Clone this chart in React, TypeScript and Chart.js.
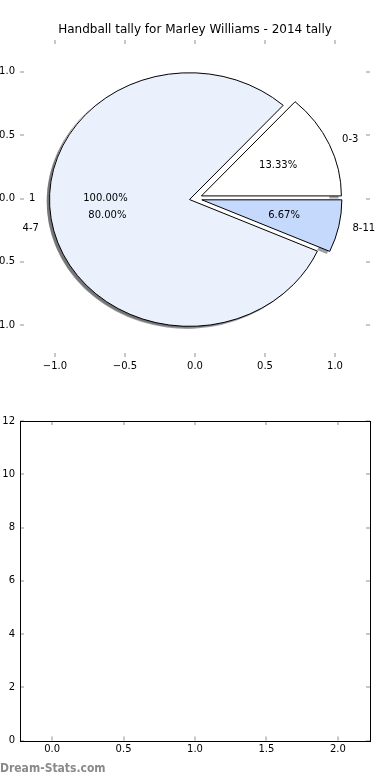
import React, { useEffect, useRef } from 'react';
import { Chart, registerables } from 'chart.js';

Chart.register(...registerables);

// ---------- data ----------
const TITLE = 'Handball tally for Marley Williams - 2014 tally';
const sliceLabels = ['0-3', '4-7', '8-11'];
const sliceValues = [2, 12, 1];
const sliceExplode = [0.05, 0.04, 0.05];
const overallLabels = ['1'];
const overallValues = [1];
const overallExplode = [0.04];
const pieTicks = [-1.0, -0.5, 0.0, 0.5, 1.0];
const barXTicks = [0.0, 0.5, 1.0, 1.5, 2.0];
const barYTicks = [0, 2, 4, 6, 8, 10, 12];
const WATERMARK = 'Dream-Stats.com';

// ---------- styles ----------
const sliceColors = ['#ffffff', '#eaf1fd', '#c5d9fd'];
const overallColors = ['#ffffff'];
const FONT = 'DejaVu Sans';
const TICK_MARK = '#c8c8c8';

const fmt1 = (v: number) => (v < 0 ? '\u2212' : '') + Math.abs(v).toFixed(1);

function hexToRgb(h: string) {
  const n = parseInt(h.slice(1), 16);
  return [(n >> 16) & 255, (n >> 8) & 255, n & 255];
}

function buildWedges(values: number[], labels: string[], colors: string[], explode: number[], edge: boolean) {
  const total = values.reduce((a, b) => a + b, 0);
  let theta = 0;
  return values.map((v, i) => {
    const t1 = theta;
    const t2 = theta + (360 * v) / total;
    theta = t2;
    const mid = (((t1 + t2) / 2) * Math.PI) / 180;
    return {
      t1: (t1 * Math.PI) / 180,
      t2: (t2 * Math.PI) / 180,
      mid,
      cx: explode[i] * Math.cos(mid),
      cy: explode[i] * Math.sin(mid),
      pct: ((v / total) * 100).toFixed(2) + '%',
      label: labels[i],
      color: colors[i],
      edge,
    };
  });
}

function drawPies(chart: any) {
  const { ctx, scales } = chart;
  const x = scales.x;
  const y = scales.y;
  const ux = x.getPixelForValue(1) - x.getPixelForValue(0);
  const uy = y.getPixelForValue(0) - y.getPixelForValue(1);
  const pies = [
    buildWedges(overallValues, overallLabels, overallColors, overallExplode, false),
    buildWedges(sliceValues, sliceLabels, sliceColors, sliceExplode, true),
  ];
  const all = pies.flat();
  const path = (w: any, ox: number, oy: number) => {
    const px = x.getPixelForValue(w.cx + ox);
    const py = y.getPixelForValue(w.cy + oy);
    ctx.beginPath();
    const full = Math.abs(w.t2 - w.t1 - 2 * Math.PI) < 1e-9;
    if (!full) ctx.moveTo(px, py);
    ctx.ellipse(px, py, ux, uy, 0, -w.t1, -w.t2, true);
    ctx.closePath();
  };
  ctx.save();
  // shadows (below every wedge)
  all.forEach((w) => {
    const [r, g, b] = hexToRgb(w.color).map((c) => Math.round(c * 0.3));
    path(w, -0.02, -0.02);
    ctx.fillStyle = `rgba(${r},${g},${b},0.5)`;
    ctx.fill();
  });
  // wedges
  all.forEach((w) => {
    path(w, 0, 0);
    ctx.fillStyle = w.color;
    ctx.fill();
    if (w.edge) {
      ctx.strokeStyle = '#000';
      ctx.lineWidth = 1;
      ctx.stroke();
    }
  });
  // texts
  ctx.font = `10px "${FONT}"`;
  ctx.fillStyle = '#000';
  ctx.textBaseline = 'middle';
  all.forEach((w) => {
    const lx = w.cx + 1.1 * Math.cos(w.mid);
    const ly = w.cy + 1.1 * Math.sin(w.mid);
    ctx.textAlign = lx > 0 ? 'left' : 'right';
    ctx.fillText(w.label, x.getPixelForValue(lx), y.getPixelForValue(ly));
    const qx = w.cx + 0.6 * Math.cos(w.mid);
    const qy = w.cy + 0.6 * Math.sin(w.mid);
    ctx.textAlign = 'center';
    ctx.fillText(w.pct, x.getPixelForValue(qx), y.getPixelForValue(qy));
  });
  ctx.restore();
}

function drawTickMarks(chart: any) {
  const { ctx, chartArea: a, scales } = chart;
  ctx.save();
  ctx.strokeStyle = TICK_MARK;
  ctx.lineWidth = 2;
  ctx.beginPath();
  scales.x.ticks.forEach((t: any) => {
    const px = Math.round(scales.x.getPixelForValue(t.value));
    ctx.moveTo(px, a.top);
    ctx.lineTo(px, a.top + 4);
    ctx.moveTo(px, a.bottom);
    ctx.lineTo(px, a.bottom - 4);
  });
  scales.y.ticks.forEach((t: any) => {
    const py = Math.round(scales.y.getPixelForValue(t.value));
    ctx.moveTo(a.left, py);
    ctx.lineTo(a.left + 4, py);
    ctx.moveTo(a.right, py);
    ctx.lineTo(a.right - 4, py);
  });
  ctx.stroke();
  ctx.restore();
}

const tickFont = { family: FONT, size: 10, weight: 'normal' as const };

function axis(min: number, max: number, ticks: number[], size: number, isX: boolean, fmt: (v: number) => string) {
  return {
    type: 'linear',
    min,
    max,
    afterBuildTicks: (s: any) => {
      s.ticks = ticks.map((v) => ({ value: v }));
    },
    afterFit: (s: any) => {
      if (isX) s.height = size;
      else s.width = size;
    },
    grid: { display: false, drawTicks: false },
    border: { display: false },
    ticks: {
      color: '#000',
      font: tickFont,
      padding: isX ? 3 : 5,
      maxRotation: 0,
      autoSkip: false,
      callback: (v: any) => fmt(Number(v)),
    },
  };
}

export default function App() {
  const pieRef = useRef<HTMLCanvasElement>(null);
  const barRef = useRef<HTMLCanvasElement>(null);

  useEffect(() => {
    const piePlugin = {
      id: 'piePlugin',
      afterDatasetsDraw(chart: any) {
        drawPies(chart);
        drawTickMarks(chart);
      },
    };
    const pie = new Chart(pieRef.current as HTMLCanvasElement, {
      type: 'scatter',
      data: { datasets: [{ data: [], pointRadius: 0 }] },
      plugins: [piePlugin],
      options: {
        animation: false,
        responsive: false,
        maintainAspectRatio: false,
        layout: { padding: { left: 0, right: 20, top: 0, bottom: 0 } },
        plugins: {
          legend: { display: false },
          tooltip: { enabled: false },
          title: {
            display: true,
            text: TITLE,
            fullSize: false,
            color: '#000',
            font: { family: FONT, size: 12, weight: 'normal' },
            padding: { top: 22.5, bottom: 3.1 },
          },
        },
        scales: {
          x: axis(-1.25, 1.25, pieTicks, 25, true, fmt1),
          y: axis(-1.25, 1.25, pieTicks, 50, false, fmt1),
        },
      } as any,
    });

    const framePlugin = {
      id: 'framePlugin',
      afterDatasetsDraw(chart: any) {
        drawTickMarks(chart);
        const { ctx, chartArea: a } = chart;
        ctx.save();
        ctx.strokeStyle = '#000';
        ctx.lineWidth = 1;
        ctx.strokeRect(
          Math.round(a.left) + 0.5,
          Math.round(a.top) + 0.5,
          Math.round(a.right - a.left),
          Math.round(a.bottom - a.top),
        );
        ctx.restore();
      },
    };
    const bar = new Chart(barRef.current as HTMLCanvasElement, {
      type: 'scatter',
      data: { datasets: [{ data: [], pointRadius: 0 }] },
      plugins: [framePlugin],
      options: {
        animation: false,
        responsive: false,
        maintainAspectRatio: false,
        layout: { padding: { left: 0, right: 20, top: 21, bottom: 0 } },
        plugins: { legend: { display: false }, tooltip: { enabled: false } },
        scales: {
          x: axis(-0.225, 2.225, barXTicks, 39.5, true, fmt1),
          y: axis(0, 12, barYTicks, 50, false, (v) => String(v)),
        },
      } as any,
    });

    return () => {
      pie.destroy();
      bar.destroy();
    };
  }, []);

  return (
    <div
      style={{
        position: 'absolute',
        left: 0,
        top: 0,
        width: 390,
        height: 780,
        overflow: 'hidden',
        background: '#fff',
      }}
    >
      <canvas
        ref={pieRef}
        width={420}
        height={382}
        style={{ position: 'absolute', left: -30, top: 0, display: 'block' }}
      />
      <canvas
        ref={barRef}
        width={420}
        height={380}
        style={{ position: 'absolute', left: -30, top: 400, display: 'block' }}
      />
      <div
        style={{
          position: 'absolute',
          left: 0,
          top: 761,
          fontFamily: '"DejaVu Sans Condensed", "DejaVu Sans"',
          fontSize: 12,
          fontWeight: 'bold',
          color: '#8a8a8a',
          lineHeight: '14px',
          whiteSpace: 'nowrap',
        }}
      >
        {WATERMARK}
      </div>
    </div>
  );
}
